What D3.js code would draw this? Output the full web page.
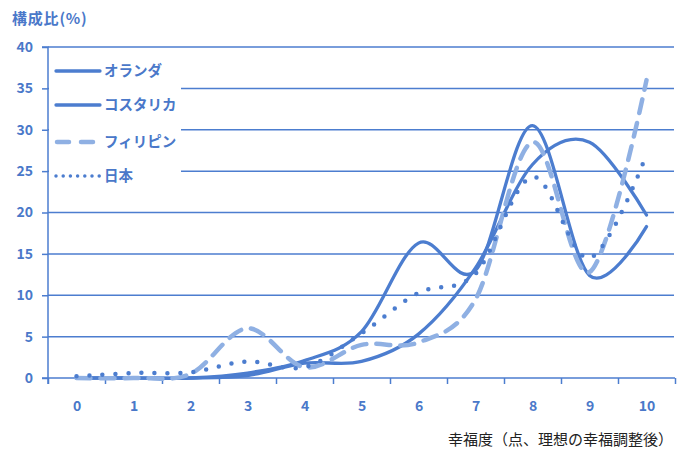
<!DOCTYPE html>
<html>
<head>
<meta charset="utf-8">
<style>
  body { margin: 0; background: #fff; }
  svg text { font-family: "Noto Sans CJK JP", "Noto Sans", sans-serif; }
</style>
<script src="https://d3js.org/d3.v7.min.js"></script>
</head>
<body>
<script>
// scores 0..10 and share (%) per country
const scores = [0, 1, 2, 3, 4, 5, 6, 7, 8, 9, 10];
const netherlands = [0, 0, 0, 0.3, 1.8, 2.0, 5.3, 13.3, 25.8, 28.5, 19.7];
const costaRica   = [0, 0, 0, 0.6, 2.1, 5.6, 16.3, 13.0, 30.5, 12.4, 18.3];
const philippines = [0, 0, 0.5, 6.0, 1.3, 4.0, 4.3, 9.5, 28.5, 12.8, 36.0];
const japan       = [0.2, 0.6, 0.7, 2.0, 1.3, 5.4, 10.3, 12.6, 24.3, 14.5, 27.0];
const seriesNames = ["オランダ", "コスタリカ", "フィリピン", "日本"];
const yTicks = [0, 5, 10, 15, 20, 25, 30, 35, 40];

const w = 686, h = 450;
const blue = "#4c7dcf";
const light = "#8fb0e3";
const textBlue = "#4a78c9";

const svg = d3.select("body").append("svg")
  .attr("width", w).attr("height", h);

const x = d3.scalePoint().domain(scores).range([48, 675]).padding(0.5);
const xEdge = d3.scaleLinear().domain([-0.5, 10.5]).range([48, 675]);
const y = d3.scaleLinear().domain([0, 40]).range([378, 47]);

// grid
svg.append("g").selectAll("line")
  .data(yTicks.filter(d => d > 0))
  .join("line")
  .attr("x1", 48).attr("x2", 674)
  .attr("y1", d => y(d)).attr("y2", d => y(d))
  .attr("stroke", blue).attr("stroke-width", 1.5);

// y axis
const yAxis = svg.append("g")
  .attr("transform", "translate(48,0)")
  .call(d3.axisLeft(y).tickValues(yTicks).tickSize(6).tickPadding(9));
yAxis.select(".domain").attr("stroke", blue).attr("stroke-width", 1.5)
  .attr("d", "M-6," + y(40) + "H0V" + 384);
yAxis.selectAll(".tick line").attr("stroke", blue).attr("stroke-width", 1.5);
yAxis.selectAll(".tick text").attr("fill", textBlue)
  .style("font-size", "14px").style("font-weight", "bold");

// x axis: tick marks at category edges, labels at centres
const xTickAxis = svg.append("g")
  .attr("transform", "translate(0,378)")
  .call(d3.axisBottom(xEdge).tickValues(d3.range(-0.5, 11, 1)).tickSize(6).tickFormat(""));
xTickAxis.select(".domain").attr("stroke", blue).attr("stroke-width", 1.5)
  .attr("d", "M42,0H675");
xTickAxis.selectAll(".tick line").attr("stroke", blue).attr("stroke-width", 1.5);

const xLab = svg.append("g")
  .attr("transform", "translate(0,378)")
  .call(d3.axisBottom(x).tickSize(0).tickPadding(23));
xLab.select(".domain").remove();
xLab.selectAll(".tick text").attr("fill", textBlue)
  .style("font-size", "14px").style("font-weight", "bold");

// lines
const line = d3.line()
  .x((d, i) => x(scores[i]))
  .y(d => y(d))
  .curve(d3.curveCardinal.tension(0));

const styles = [
  { data: netherlands, color: blue, width: 3.3, dash: null },
  { data: costaRica, color: blue, width: 3.3, dash: null },
  { data: philippines, color: light, width: 4.5, dash: "14 10" },
  { data: japan, color: blue, width: 4.5, dash: "0 13" }
];

svg.append("g").selectAll("path")
  .data(styles)
  .join("path")
  .attr("d", d => line(d.data))
  .attr("fill", "none")
  .attr("stroke", d => d.color)
  .attr("stroke-width", d => d.width)
  .attr("stroke-linecap", "round")
  .attr("stroke-dasharray", d => d.dash);

// legend
const legend = svg.append("g");
legend.append("rect")
  .attr("x", 49).attr("y", 52).attr("width", 132).attr("height", 144)
  .attr("fill", "#fff");
const legY = [71, 105, 142, 176];
const items = legend.selectAll("g.item")
  .data(styles)
  .join("g")
  .attr("class", "item")
  .attr("transform", (d, i) => "translate(0," + legY[i] + ")");
items.append("line")
  .attr("x1", (d, i) => i === 2 ? 57 : 56)
  .attr("x2", (d, i) => i === 2 ? 93 : 100)
  .attr("stroke", d => d.color)
  .attr("stroke-width", (d, i) => i === 3 ? 3.5 : d.width)
  .attr("stroke-linecap", "round")
  .attr("stroke-dasharray", (d, i) => i === 2 ? "12 12" : (i === 3 ? "0 7.2" : null));
items.append("text")
  .attr("x", 104).attr("dy", "0.35em")
  .attr("fill", textBlue)
  .style("font-size", "14.5px").style("font-weight", "bold")
  .text((d, i) => seriesNames[i]);

// titles
svg.append("text")
  .attr("x", 12).attr("y", 24)
  .attr("fill", textBlue)
  .style("font-size", "15px").style("font-weight", "bold")
  .style("letter-spacing", "0.8px")
  .text("構成比(%)");

svg.append("text")
  .attr("x", 673).attr("y", 445)
  .attr("text-anchor", "end")
  .attr("fill", "#222")
  .style("font-size", "15px")
  .text("幸福度（点、理想の幸福調整後）");
</script>
</body>
</html>
